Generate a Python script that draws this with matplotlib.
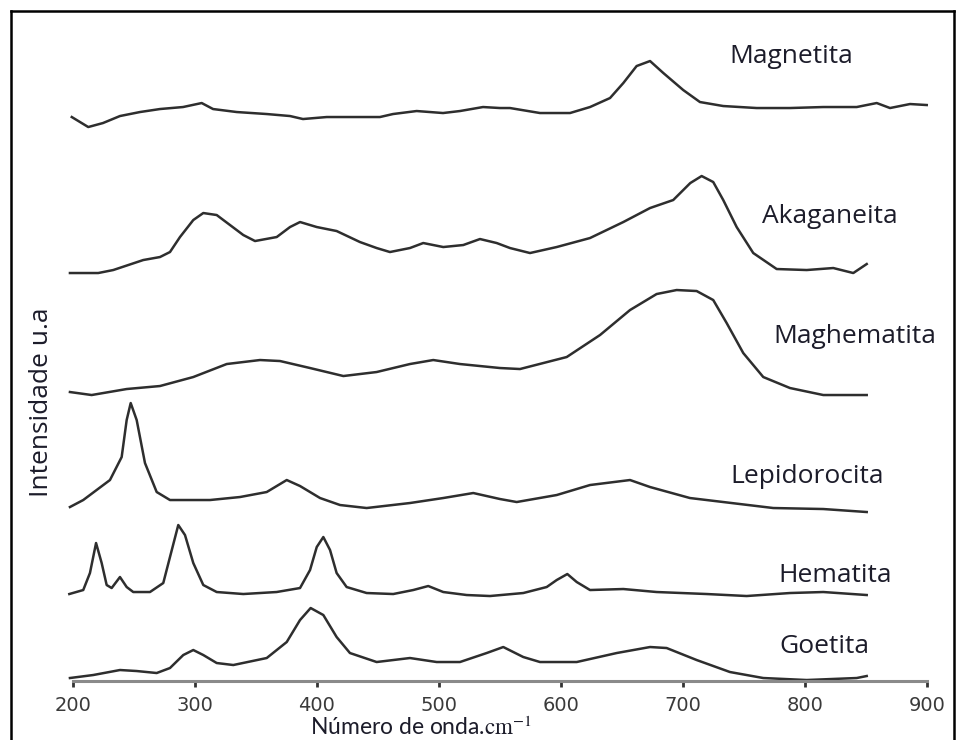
import matplotlib.pyplot as plt
from matplotlib.lines import Line2D

plt.rcParams['mathtext.fontset'] = 'stix'

# Raman spectra of iron oxides, stacked (wavenumber in cm-1, intensity in u.a.)
magnetita_cm = [199, 212.5, 224.6, 238.5, 254.9, 271.3, 290.2, 305.5, 314.8, 334.2, 358.8, 377.9,
                388.5, 408, 429.5, 451.6, 462.3, 481.7, 503.3, 517.2, 536.1, 550, 558.2, 582.8,
                607.4, 623.8, 640.2, 651.1, 662, 673, 683.9, 700.2, 713.9, 733, 760.4, 787.7,
                815, 842.4, 858.8, 869.7, 886.1, 899.8]
magnetita_int = [564, 554, 558, 565, 569, 572, 574, 578, 572, 569, 567, 565,
                 562, 564, 564, 564, 567, 570, 568, 570, 574, 573, 573, 568,
                 568, 574, 583, 598, 615, 620, 608, 591, 579, 575, 573, 573,
                 574, 574, 578, 573, 577, 576]

akaganeita_cm = [197.5, 220.7, 233, 257.6, 271.3, 279.5, 287.7, 298.6, 306.8, 317.8, 328.7, 339.6,
                 349.2, 367, 377.9, 386.1, 399.8, 416.1, 435.2, 448.9, 459.8, 476.2, 487.1, 503.5,
                 519.9, 533.6, 547.3, 558.2, 574.6, 596.5, 623.8, 651.1, 673, 692, 706, 715.3,
                 724.8, 733, 744, 757.6, 776.8, 801.4, 823.2, 839.6, 850.6]
akaganeita_int = [408, 408, 411, 421, 424, 429, 444, 461, 468, 466, 456, 446,
                  440, 444, 454, 459, 454, 450, 439, 433, 429, 433, 438, 434,
                  436, 442, 438, 433, 428, 434, 443, 459, 473, 481, 498, 505,
                  499, 481, 454, 428, 412, 411, 413, 408, 417]

maghematita_cm = [197.5, 215.3, 244, 271.3, 298.6, 326, 353.3, 369.7, 394.3, 421.6, 448.9, 476.2,
                  495.3, 517.2, 550, 566.4, 604.7, 632, 656.6, 678.4, 694.8, 711.2, 724.8, 735.8,
                  749.4, 765.8, 787.7, 815, 850.6]
maghematita_int = [289, 286, 292, 295, 304, 317, 321, 320, 313, 305, 309, 317,
                   321, 317, 313, 312, 324, 346, 371, 387, 391, 390, 381, 358,
                   328, 304, 293, 286, 286]

lepidorocita_cm = [197.5, 208.4, 230.3, 239.9, 244, 247.3, 252.2, 259, 268.6, 279.5, 312.3, 336.9,
                   358.8, 375.2, 386.1, 402.5, 418.9, 440.7, 476.2, 503.5, 528.1, 550, 563.7, 596.5,
                   623.8, 656.6, 673, 705.7, 733, 774, 815, 850.6]
lepidorocita_int = [174, 181, 201, 224, 261, 278, 261, 218, 189, 181, 181, 184,
                    189, 201, 195, 183, 176, 173, 178, 183, 188, 182, 179, 186,
                    196, 201, 194, 183, 179, 173, 172, 169]

hematita_cm = [197, 208.4, 213.9, 218.9, 223.5, 227.6, 231.7, 238.5, 244, 249.4, 263.1, 274,
               279.5, 286.3, 291.8, 298.6, 306.8, 317.8, 339.6, 366.9, 386.1, 394.3, 399.8, 405.2,
               410.7, 416.1, 424.3, 440.7, 462.5, 478.9, 491.2, 503.5, 522.7, 541.8, 569.1, 588.3,
               596.5, 605.2, 612.9, 623.8, 651.1, 678.4, 719.4, 752.2, 787.7, 815, 850.6]
hematita_int = [87, 91, 108, 138, 118, 96, 93, 104, 94, 89, 89, 98,
                124, 156, 146, 118, 96, 89, 87, 89, 93, 111, 134, 144,
                131, 108, 94, 88, 87, 91, 95, 89, 86, 85, 88, 94,
                101, 107, 99, 91, 92, 89, 87, 85, 88, 89, 86]

goetita_cm = [197.5, 216.6, 238.5, 252.2, 268.6, 279.5, 290.4, 298.6, 306.8, 317.8, 331.4, 358.8,
              375.2, 386.1, 394.8, 405.2, 416.1, 427, 448.9, 476.2, 498.1, 517.2, 539.1, 552.7,
              569.1, 582.8, 612.9, 645.7, 673, 686.6, 711.2, 738.5, 765.8, 801.4, 842.4, 850.6]
goetita_int = [3, 6, 11, 10, 8, 13, 26, 31, 26, 18, 16, 23,
               39, 61, 73, 66, 44, 28, 19, 23, 19, 19, 28, 34,
               24, 19, 19, 28, 34, 33, 21, 9, 3, 1, 3, 5]

nomes = ['Magnetita', 'Akaganeita', 'Maghematita', 'Lepidorocita', 'Hematita', 'Goetita']
espectros = [(magnetita_cm, magnetita_int), (akaganeita_cm, akaganeita_int),
             (maghematita_cm, maghematita_int), (lepidorocita_cm, lepidorocita_int),
             (hematita_cm, hematita_int), (goetita_cm, goetita_int)]
# label anchor (wavenumber, intensity) for each spectrum name
rotulos = [(738, 618), (765, 458), (774, 338), (739, 198), (778, 99), (779, 28)]

xticks = [200, 300, 400, 500, 600, 700, 800, 900]

fig = plt.figure(figsize=(9.57, 7.40), dpi=100)
ax = fig.add_axes([0.0699, 0.0797, 0.9051, 0.8662])

for (cm, inten) in espectros:
    ax.plot(cm, inten, color='#2e2e2e', lw=1.8, solid_joinstyle='round')

for nome, (x, y) in zip(nomes, rotulos):
    ax.text(x, y, nome, fontsize=19, family='Open Sans', color='#1c1c2a',
            ha='left', va='baseline')

ax.set_xlim(195, 905)
ax.set_ylim(0, 641)
ax.set_xticks(xticks)
ax.set_yticks([])
for s in ['top', 'right', 'left']:
    ax.spines[s].set_visible(False)
ax.spines['bottom'].set_bounds(200, 900)
ax.spines['bottom'].set_color('#8a8a8a')
ax.spines['bottom'].set_linewidth(2.2)
ax.tick_params(axis='x', direction='out', length=4, width=2, color='#333333',
               pad=7, labelsize=14, labelcolor='#3a3a3a')

fig.text(421 / 957, 1 - 735 / 740, r'Número de onda.$\mathrm{cm}^{-1}$', fontsize=16.5,
         family='Lato', color='#1c1c2a', ha='center', va='baseline')
fig.text(42 / 957, 1 - 402 / 740, 'Intensidade u.a', fontsize=19, family='Open Sans',
         color='#1c1c2a', rotation=90, ha='center', va='center')

# outer frame
for xs, ys in [((10.5, 10.5), (0, 729.5)), ((10.5, 953.5), (729.5, 729.5)),
               ((953.5, 953.5), (0, 729.5))]:
    fig.add_artist(Line2D([v / 957 for v in xs], [v / 740 for v in ys],
                          color='black', lw=1.8, transform=fig.transFigure))

fig.savefig('out.png', dpi=100)
